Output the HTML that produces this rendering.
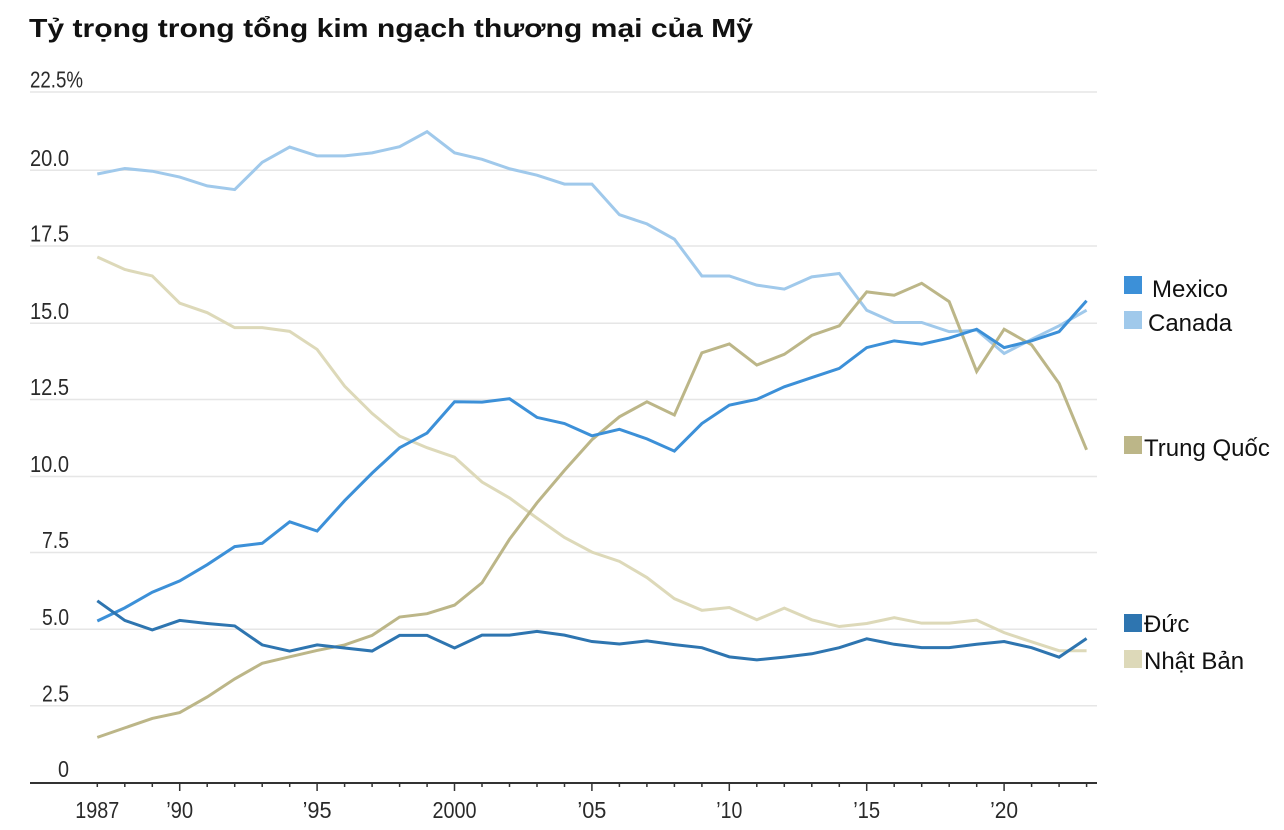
<!DOCTYPE html>
<html>
<head>
<meta charset="utf-8">
<style>
  html,body{margin:0;padding:0;background:#fff;}
  body{width:1284px;height:830px;overflow:hidden;}
  svg{display:block;}
  .t{font-family:"Liberation Sans","Noto Sans CJK SC",sans-serif;}
</style>
</head>
<body>
<svg width="1284" height="830" viewBox="0 0 1284 830" xmlns="http://www.w3.org/2000/svg">
  <rect width="1284" height="830" fill="#fff"/>
  <!-- Title -->
  <text class="t" x="29" y="37" font-size="26" font-weight="bold" fill="#111" textLength="724" lengthAdjust="spacingAndGlyphs">Tỷ trọng trong tổng kim ngạch thương mại của Mỹ</text>

  <!-- Gridlines -->
  <g stroke="#e6e6e6" stroke-width="1.5">
    <line x1="30" x2="1097" y1="92" y2="92"/>
    <line x1="30" x2="1097" y1="170.3" y2="170.3"/>
    <line x1="30" x2="1097" y1="246" y2="246"/>
    <line x1="30" x2="1097" y1="323.3" y2="323.3"/>
    <line x1="30" x2="1097" y1="399.5" y2="399.5"/>
    <line x1="30" x2="1097" y1="476.5" y2="476.5"/>
    <line x1="30" x2="1097" y1="552.5" y2="552.5"/>
    <line x1="30" x2="1097" y1="629.3" y2="629.3"/>
    <line x1="30" x2="1097" y1="705.7" y2="705.7"/>
  </g>

  <!-- Y labels -->
  <g class="t" font-size="23.5" fill="#2a2a2a">
    <text x="30" y="87.5" textLength="53" lengthAdjust="spacingAndGlyphs">22.5%</text>
    <text x="69" y="166" text-anchor="end" textLength="39" lengthAdjust="spacingAndGlyphs">20.0</text>
    <text x="69" y="241.7" text-anchor="end" textLength="39" lengthAdjust="spacingAndGlyphs">17.5</text>
    <text x="69" y="319" text-anchor="end" textLength="39" lengthAdjust="spacingAndGlyphs">15.0</text>
    <text x="69" y="395.2" text-anchor="end" textLength="39" lengthAdjust="spacingAndGlyphs">12.5</text>
    <text x="69" y="472.2" text-anchor="end" textLength="39" lengthAdjust="spacingAndGlyphs">10.0</text>
    <text x="69" y="548.2" text-anchor="end" textLength="27" lengthAdjust="spacingAndGlyphs">7.5</text>
    <text x="69" y="625" text-anchor="end" textLength="27" lengthAdjust="spacingAndGlyphs">5.0</text>
    <text x="69" y="701.4" text-anchor="end" textLength="27" lengthAdjust="spacingAndGlyphs">2.5</text>
    <text x="69" y="777" text-anchor="end" textLength="11" lengthAdjust="spacingAndGlyphs">0</text>
  </g>

  <!-- Series -->
  <g transform="translate(97.3,782.7) scale(27.48,-30.62)" fill="none" stroke-width="3" stroke-linejoin="miter">
    <!-- Nhật Bản -->
    <polyline vector-effect="non-scaling-stroke" stroke="#ddd9b9" points="0,17.17 1,16.76 2,16.55 3,15.66 4,15.35 5,14.86 6,14.86 7,14.74 8,14.15 9,12.95 10,12.06 11,11.32 12,10.94 13,10.63 14,9.82 15,9.30 16,8.64 17,8.01 18,7.53 19,7.23 20,6.70 21,6.01 22,5.63 23,5.72 24,5.32 25,5.70 26,5.32 27,5.10 28,5.20 29,5.39 30,5.21 31,5.21 32,5.31 33,4.90 34,4.60 35,4.31 36,4.31"/>
    <!-- Canada -->
    <polyline vector-effect="non-scaling-stroke" stroke="#a0c9eb" points="0,19.88 1,20.06 2,19.97 3,19.78 4,19.49 5,19.37 6,20.26 7,20.76 8,20.47 9,20.47 10,20.57 11,20.77 12,21.26 13,20.57 14,20.36 15,20.05 16,19.84 17,19.55 18,19.55 19,18.55 20,18.25 21,17.75 22,16.55 23,16.55 24,16.25 25,16.12 26,16.52 27,16.63 28,15.43 29,15.03 30,15.03 31,14.73 32,14.78 33,14.02 34,14.48 35,14.92 36,15.43"/>
    <!-- Trung Quốc -->
    <polyline vector-effect="non-scaling-stroke" stroke="#bcb688" points="0,1.48 1,1.79 2,2.10 3,2.29 4,2.80 5,3.39 6,3.90 7,4.11 8,4.32 9,4.50 10,4.81 11,5.41 12,5.52 13,5.80 14,6.53 15,7.95 16,9.14 17,10.20 18,11.20 19,11.95 20,12.44 21,12.01 22,14.04 23,14.33 24,13.64 25,13.99 26,14.61 27,14.92 28,16.03 29,15.92 30,16.31 31,15.71 32,13.43 33,14.81 34,14.30 35,13.04 36,10.87"/>
    <!-- Mexico -->
    <polyline vector-effect="non-scaling-stroke" stroke="#3c90d8" points="0,5.28 1,5.71 2,6.22 3,6.59 4,7.12 5,7.71 6,7.82 7,8.52 8,8.22 9,9.21 10,10.11 11,10.94 12,11.42 13,12.44 14,12.43 15,12.54 16,11.93 17,11.73 18,11.33 19,11.54 20,11.23 21,10.83 22,11.73 23,12.33 24,12.52 25,12.93 26,13.23 27,13.53 28,14.21 29,14.43 30,14.32 31,14.52 32,14.81 33,14.21 34,14.43 35,14.73 36,15.74"/>
    <!-- Đức -->
    <polyline vector-effect="non-scaling-stroke" stroke="#2e75b0" points="0,5.94 1,5.30 2,4.99 3,5.30 4,5.20 5,5.12 6,4.50 7,4.30 8,4.50 9,4.40 10,4.30 11,4.81 12,4.81 13,4.40 14,4.82 15,4.82 16,4.94 17,4.82 18,4.61 19,4.53 20,4.63 21,4.51 22,4.41 23,4.11 24,4.01 25,4.10 26,4.21 27,4.41 28,4.70 29,4.52 30,4.41 31,4.41 32,4.52 33,4.61 34,4.41 35,4.10 36,4.71"/>
  </g>

  <!-- X axis -->
  <line x1="30" x2="1097" y1="783" y2="783" stroke="#333" stroke-width="2"/>
  <g stroke="#333" stroke-width="1.5">
    <line x1="97.3" x2="97.3" y1="783" y2="787"/>
    <line x1="124.8" x2="124.8" y1="783" y2="787"/>
    <line x1="152.3" x2="152.3" y1="783" y2="787"/>
    <line x1="179.7" x2="179.7" y1="783" y2="791"/>
    <line x1="207.2" x2="207.2" y1="783" y2="787"/>
    <line x1="234.7" x2="234.7" y1="783" y2="787"/>
    <line x1="262.2" x2="262.2" y1="783" y2="787"/>
    <line x1="289.7" x2="289.7" y1="783" y2="787"/>
    <line x1="317.1" x2="317.1" y1="783" y2="791"/>
    <line x1="344.6" x2="344.6" y1="783" y2="787"/>
    <line x1="372.1" x2="372.1" y1="783" y2="787"/>
    <line x1="399.6" x2="399.6" y1="783" y2="787"/>
    <line x1="427.1" x2="427.1" y1="783" y2="787"/>
    <line x1="454.5" x2="454.5" y1="783" y2="791"/>
    <line x1="482.0" x2="482.0" y1="783" y2="787"/>
    <line x1="509.5" x2="509.5" y1="783" y2="787"/>
    <line x1="537.0" x2="537.0" y1="783" y2="787"/>
    <line x1="564.5" x2="564.5" y1="783" y2="787"/>
    <line x1="591.9" x2="591.9" y1="783" y2="791"/>
    <line x1="619.4" x2="619.4" y1="783" y2="787"/>
    <line x1="646.9" x2="646.9" y1="783" y2="787"/>
    <line x1="674.4" x2="674.4" y1="783" y2="787"/>
    <line x1="701.9" x2="701.9" y1="783" y2="787"/>
    <line x1="729.3" x2="729.3" y1="783" y2="791"/>
    <line x1="756.8" x2="756.8" y1="783" y2="787"/>
    <line x1="784.3" x2="784.3" y1="783" y2="787"/>
    <line x1="811.8" x2="811.8" y1="783" y2="787"/>
    <line x1="839.3" x2="839.3" y1="783" y2="787"/>
    <line x1="866.7" x2="866.7" y1="783" y2="791"/>
    <line x1="894.2" x2="894.2" y1="783" y2="787"/>
    <line x1="921.7" x2="921.7" y1="783" y2="787"/>
    <line x1="949.2" x2="949.2" y1="783" y2="787"/>
    <line x1="976.7" x2="976.7" y1="783" y2="787"/>
    <line x1="1004.1" x2="1004.1" y1="783" y2="791"/>
    <line x1="1031.6" x2="1031.6" y1="783" y2="787"/>
    <line x1="1059.1" x2="1059.1" y1="783" y2="787"/>
    <line x1="1086.6" x2="1086.6" y1="783" y2="787"/>
  </g>
  <g class="t" font-size="23.5" fill="#2a2a2a" text-anchor="middle">
    <text x="97.3" y="818" textLength="44" lengthAdjust="spacingAndGlyphs">1987</text>
    <text x="179.7" y="818" textLength="27" lengthAdjust="spacingAndGlyphs">’90</text>
    <text x="317.1" y="818" textLength="29" lengthAdjust="spacingAndGlyphs">’95</text>
    <text x="454.5" y="818" textLength="44" lengthAdjust="spacingAndGlyphs">2000</text>
    <text x="591.9" y="818" textLength="29" lengthAdjust="spacingAndGlyphs">’05</text>
    <text x="729.3" y="818" textLength="26" lengthAdjust="spacingAndGlyphs">’10</text>
    <text x="866.7" y="818" textLength="27" lengthAdjust="spacingAndGlyphs">’15</text>
    <text x="1004.1" y="818" textLength="28" lengthAdjust="spacingAndGlyphs">’20</text>
  </g>

  <!-- Legend -->
  <rect x="1124" y="276" width="18" height="18" fill="#3c90d8"/>
  <rect x="1124" y="311" width="18" height="18" fill="#a0c9eb"/>
  <rect x="1124" y="436" width="18" height="18" fill="#bcb688"/>
  <rect x="1124" y="614" width="18" height="18" fill="#2e75b0"/>
  <rect x="1124" y="650" width="18" height="18" fill="#ddd9b9"/>
  <g class="t" font-size="24" fill="#111">
    <text x="1152" y="297">Mexico</text>
    <text x="1148" y="331">Canada</text>
    <text x="1144" y="456">Trung Quốc</text>
    <text x="1144" y="632">Đức</text>
    <text x="1144" y="669">Nhật Bản</text>
  </g>
</svg>
</body>
</html>
